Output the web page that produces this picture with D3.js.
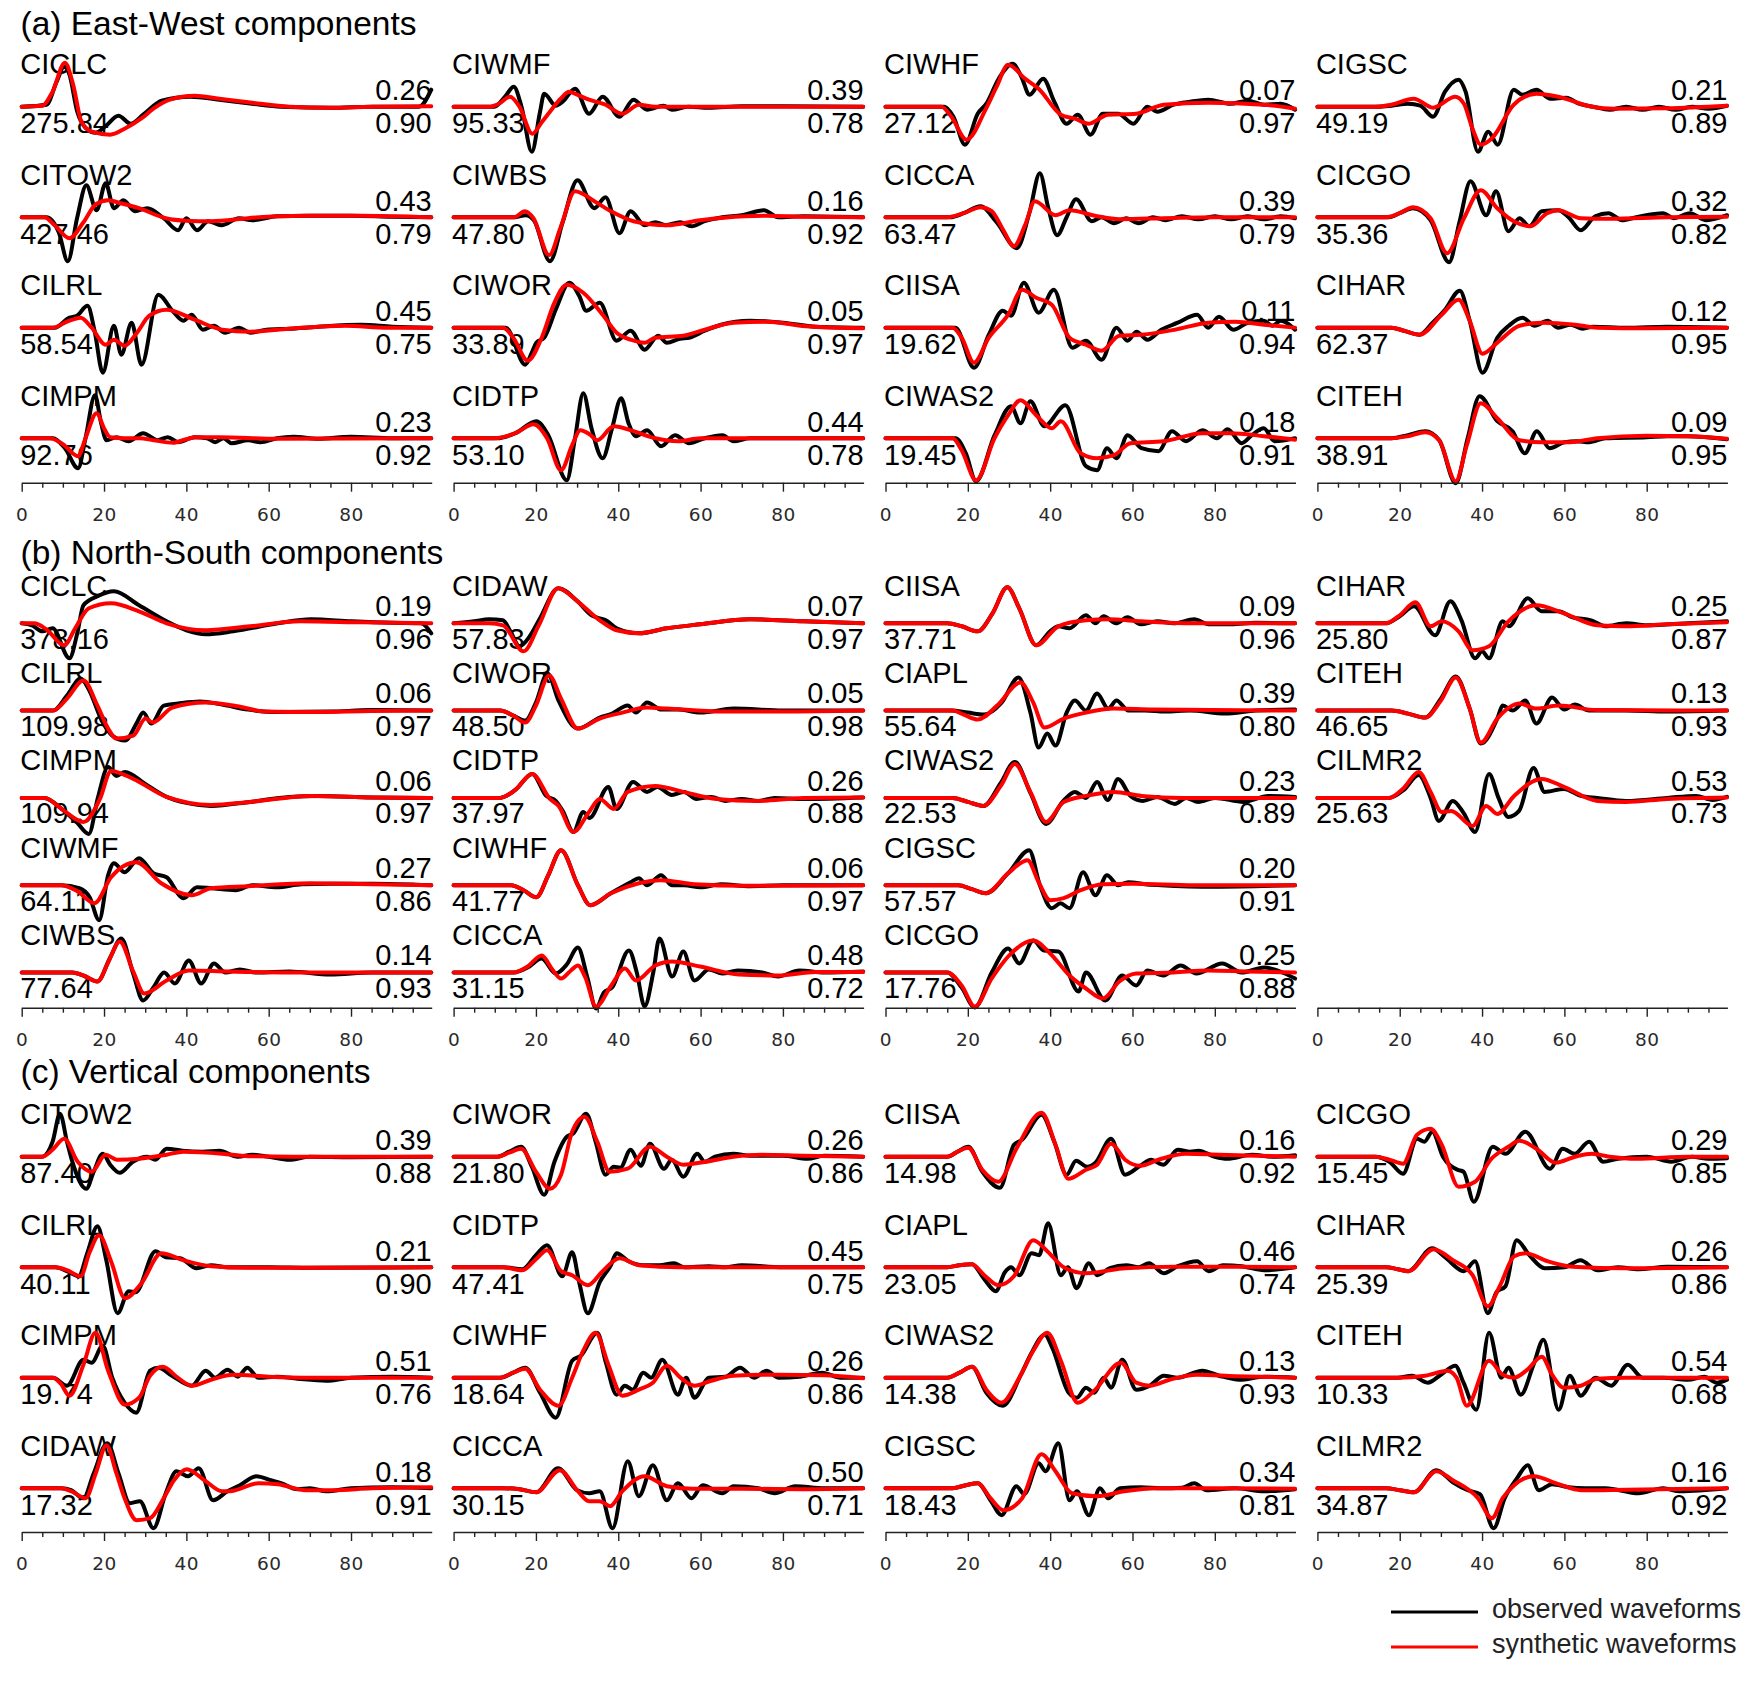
<!DOCTYPE html>
<html><head><meta charset="utf-8">
<script src="https://cdn.jsdelivr.net/npm/d3@7"></script>
<style>body{margin:0;background:#fff}svg{display:block}</style>
</head><body>
<svg id="chart" width="1750" height="1684"></svg>
<script>
// ---------------- DATA ----------------
const titles = ["(a) East-West components", "(b) North-South components", "(c) Vertical components"];
const xTicks = [0,5,10,15,20,25,30,35,40,45,50,55,60,65,70,75,80,85,90,95];
const xTickLabels = [0,20,40,60,80];
const legendLabels = ["observed waveforms", "synthetic waveforms"];

// (a) East-West — columns, top to bottom
const stationsA = [["CICLC","CITOW2","CILRL","CIMPM"],["CIWMF","CIWBS","CIWOR","CIDTP"],["CIWHF","CICCA","CIISA","CIWAS2"],["CIGSC","CICGO","CIHAR","CITEH"]];
const peakA = [["275.84","427.46","58.54","92.76"],["95.33","47.80","33.89","53.10"],["27.12","63.47","19.62","19.45"],["49.19","35.36","62.37","38.91"]];
const misfitA = [["0.26","0.43","0.45","0.23"],["0.39","0.16","0.05","0.44"],["0.07","0.39","0.11","0.18"],["0.21","0.32","0.12","0.09"]];
const corrA = [["0.90","0.79","0.75","0.92"],["0.78","0.92","0.97","0.78"],["0.97","0.79","0.94","0.91"],["0.89","0.82","0.95","0.95"]];
const obsA = [
 [
  [0,0,6,0.2,8.5,2.5,10.3,4.0,11.6,3.2,13.5,-0.5,15.5,-2.1,18,-2.6,20.5,-1.9,23.5,-0.9,26.5,-1.7,29.5,-0.8,34,0.6,41,1.0,48,0.7,56,0.3,63,0,75,-0.1,85,0,96.5,0,99.5,1.7],
  [0,0,6,0,9,-1.5,11.2,-4.4,13.5,0,15.7,3.2,18.2,0.7,20.4,3.4,22.4,0.9,24.7,1.7,27.5,0.6,30.5,0.9,34.5,-0.1,38,-1.3,40,-0.1,42.6,-1.3,45.3,-0.4,48.5,-0.8,52.8,-0.1,56,-0.3,62,0.1,70,0.15,80,0.15,90,0.05,99.5,0],
  [0,0,8,0,11.6,1.0,13.4,1.2,16,2.2,17.7,-0.3,19.7,-4.5,22.4,0.2,24.2,-2.7,26.7,0.5,29.1,-3.7,33.2,3.3,36.6,1.7,39.3,0.7,41.3,1.3,44,-0.2,46.7,0.2,49.4,-0.5,52.8,0,55.5,-0.5,59.5,-0.2,65,-0.1,72,0.1,82.5,0.3,90,0.1,99.5,0],
  [0,0,7.6,0,10.5,-1.0,13.7,-3.0,15.5,0,17.8,4.3,19.3,1.5,20.6,-0.2,23,0.1,26,-0.3,29.5,0.5,33,-0.2,35.5,0.1,38,-0.4,42,0.1,45,0,47,-0.4,49,0,51,-0.5,55,-0.2,58,-0.4,62,0,66,0.15,72,-0.05,80,0.15,90,0,99.5,0]
 ],
 [
  [0,0,9.9,0,12.5,1.0,14.6,2.0,16.5,0,19,-4.5,21,-0.5,22,1.3,24.8,0.1,26.5,0.5,29.5,1.8,32.9,-0.7,36.2,1.0,40.3,-1.0,43.7,0.7,47,-0.3,51,0.1,53,-0.3,57,0,62,-0.1,70,0.05,80,0.05,99.5,0],
  [0,0,15,0,17.5,0.2,19.5,-0.3,23.4,-4.4,26.5,-0.5,30.1,3.7,34.2,0.9,36.9,2.0,40.3,-1.6,43,0.6,46.4,-0.8,49,-0.5,51.5,-0.8,55,-0.5,57.8,-0.9,61,-0.4,65.3,0,70,0.2,75.4,0.7,78.8,0,85,0.1,99.5,0],
  [0,0,12.7,0,17.4,-3.7,19,-2.5,20.1,-1.5,22,-1.0,25,2.0,28.1,4.5,30.5,3.2,32.2,1.7,35.5,2.5,39.6,-1.3,43,-0.3,46.4,-2.2,49.7,-0.8,51.8,-1.5,55,-1.1,57.2,-1.0,61,-0.3,65,0.3,72,0.7,80,0.5,88,0.1,99.5,0],
  [0,0,10.6,0,15,0.5,20.1,1.7,23,0.3,27.5,-4.2,29.5,0,31.5,4.5,33.5,1.0,36.2,-2.0,38.5,1.0,40.7,4.0,42.5,1.5,44.3,0.2,47,0.8,50.4,-0.8,53.8,0.3,57.2,-0.5,61,0,65.3,0.3,68,-0.3,72,0,80,0,99.5,0]
 ],
 [
  [0,0,14.3,0,16.5,-1.0,19.3,-3.8,22.4,-0.7,24.5,0.3,27.5,2.8,30.9,4.3,33,3.0,35,1.2,38.3,2.8,41,0.5,44,-1.7,46.7,-0.8,49.8,-2.8,52.8,-0.7,56.5,-0.7,60.2,-1.7,63.6,0,66,-0.5,70,0.2,74,0.5,78.4,0.7,83.8,0.3,88,0.6,92,0.2,96,0.3,99.5,-0.3],
  [0,0,15.7,0,19,0.4,23.1,1.1,27,-0.5,31.9,-3.1,35,0.5,37.5,4.4,39.5,1.0,41.7,-1.8,44,0,46.3,1.8,50.1,-0.4,52.5,0,55.5,-0.6,58.5,-0.1,61.5,-0.6,65,0,68,-0.3,72,0.1,76,-0.2,80,0.1,84,-0.2,88,0.1,92,-0.2,96,0.1,99.5,-0.1],
  [0,0,17,0,21.5,-4.0,25.1,-0.7,28.5,1.7,30.5,1.2,33.6,4.5,37.2,1.5,40.9,3.8,45.4,-2.0,48.7,-1.3,52.5,-3.2,56.1,0,58.8,-1.3,61,-0.4,63.6,-1.2,67,-0.2,71,0.5,75.7,1.3,78.4,0,81,1.1,84.5,-0.2,88,0.5,91.9,0.7,94,0.2,96,0.7,99.5,-0.2],
  [0,0,17,0,19.5,-1.5,22,-4.3,26.5,0.3,30.5,3.2,32.8,1.5,35.2,3.7,38.6,1.2,43.7,3.3,48.7,-2.8,51.4,-3.2,53.8,-1.0,56.1,-2.0,58.8,0.3,62.2,-1.0,66.3,-1.3,69.6,0.7,73,-0.3,77,0.8,80.5,0,83.1,0.9,86.5,-0.5,89,0.3,91.9,1.0,94.5,-0.3,99.5,0]
 ],
 [
  [0,0,14.7,0,18,0.1,22,0.3,25,0.1,28.1,-1.0,31,1.5,34.3,2.7,36,1.5,39,-4.5,41.5,-2.5,43.8,-3.8,47.7,1.7,49.8,1.2,53.2,1.7,56.5,0.8,60.5,0.9,63.5,0.3,67,0,71,-0.3,75,0,79,-0.3,83,0,87,-0.3,91,0,95,-0.2,99.5,0.1],
  [0,0,17.4,0,20,0.4,23.2,0.9,27.5,-0.3,32,-4.5,34.5,-0.5,37.2,3.6,41,0.2,43.4,2.6,46.4,-1.4,49.1,-0.1,51.5,-0.9,54.5,0.6,58.5,0.7,61,0,64,-1.3,67.5,0.1,70.7,0.4,74,-0.3,77.5,0,84,0.4,86.5,-0.1,90.5,0.4,94.5,-0.3,99.5,0.2],
  [0,0,18,0,21,-0.3,24.8,-0.7,28,0.5,31,1.8,34.6,3.7,37,0.7,40.1,-4.5,43.7,-1.0,46.5,0.2,49.8,1.0,52.8,0.2,55.9,0.7,58.5,0,61.5,0.3,64.5,-0.1,67,0.1,75,0,85,0.1,99.5,0],
  [0,0,18,0,22,0.3,26.2,0.7,29.6,-0.2,33.6,-4.5,36.5,0,39.4,4.2,43.7,1.7,47.4,0.7,50.4,-1.5,53.3,0.7,56.4,-1.0,60,-0.4,63,-0.3,66,-0.4,70,0,80,0.1,85,0.2,90,0.2,99.5,-0.1]
 ]
];
const synA = [
 [
  [0,0,5,0.1,7.5,1.5,10.5,4.4,12.5,2.2,14.5,-1.5,17,-2.5,21.5,-2.8,25,-2.2,29,-1.2,32,-0.2,36,0.7,42,1.1,48,0.8,56,0.4,65,0,75,-0.1,85,0,99.5,0.05],
  [0,0,5.5,0,8,-0.8,11.6,-2.1,15,-0.5,18,1.3,21,1.7,24,1.4,28.5,0.9,35,-0.1,40,-0.35,46,-0.4,55,-0.1,62,0.1,69,0.15,82,0.15,99.5,0],
  [0,0,7.6,0,11,0.6,14.3,1.0,17,0,20.4,-1.7,22.4,-1.2,25,-1.8,28,-0.5,31,1.2,35.2,1.8,42,0.8,48.7,-0.2,55.5,-0.4,65,-0.1,78.4,0.2,89,0,99.5,0],
  [0,0,6.9,0,10,-0.6,13.7,-1.8,15.5,0,18.2,2.5,20,1.0,21.5,0.1,25,0,28.7,0,32,-0.2,36.8,-0.45,40,-0.1,42.5,0.1,48,0.1,62,-0.05,99.5,0]
 ],
 [
  [0,0,8.6,0,11,0.3,13.7,1.0,16,0,19.1,-2.7,21.5,-1.5,23.4,-0.5,26,0.8,28.1,1.5,30,1.2,32.9,0.7,36.9,0.2,41,-0.7,45,0.2,49,0,60,0,99.5,0],
  [0,0,14.7,0,17.3,0.6,19.4,-0.1,23.2,-3.8,26,-1.0,29.5,2.6,34.2,1.6,38.2,0.6,43.7,-0.4,51.8,-0.8,59.9,-0.3,70.7,0.1,76,0.15,85,0.05,99.5,0],
  [0,0,12,0,14.5,-1.0,18,-3.3,21.4,-1.0,24.5,2.5,27.5,4.3,31.5,3.5,36.2,1.3,39.6,-0.5,43,-1.2,46.4,-1.5,49,-1.0,55.8,-0.8,61,-0.2,68,0.5,76,0.6,85.5,0.15,99.5,-0.05],
  [0,0,9.9,0,15,0.5,19.4,1.4,22.7,0,26.1,-3.2,28.8,-0.7,30.8,0.8,33,0.4,34.9,-0.2,38.9,1.2,43.7,0.7,49,0,54.5,-0.3,60,0,99.5,0]
 ],
 [
  [0,0,13.6,0,16,-1.0,19.7,-3.3,24.4,-0.2,27,2.0,29.8,4.2,33.9,2.8,37.2,1.8,42.6,-0.8,46,-1.2,49.4,-1.7,54,-0.8,60.9,-0.7,67.6,0.2,78.4,0.4,91.9,0.2,99.5,-0.2],
  [0,0,15,0,19,0.4,23.1,1.0,25.8,0.6,28.5,-1.2,31.2,-2.9,33.9,-0.8,36.3,1.6,41.3,0.2,44.7,0.7,51.4,0.1,56.8,-0.2,67.6,-0.1,80,0,99.5,0],
  [0,0,16.3,0,18.5,-1.0,21.5,-3.5,25.1,-1.0,29.8,1.3,33.2,3.8,36.6,3.0,40.4,2.3,44.7,-1.0,48.7,-1.7,52.5,-2.3,56.8,-0.8,62.2,-0.7,70.3,-0.2,78.4,0.5,85,0.6,92,0.3,99.5,0],
  [0,0,16.3,0,18.5,-1.2,22,-4.2,26.5,0,29.8,2.3,32.8,3.8,36.6,2.3,40.4,1.0,42.6,1.7,47.4,-1.5,51.4,-2.0,55.5,-1.7,59.5,-0.5,67.6,-0.3,77,0.5,83.8,0.5,92,0.2,99.5,-0.15]
 ],
 [
  [0,0,14,0,18,0.2,23.4,0.8,28.1,-0.1,33.5,1.0,35.6,0.3,37.5,-2.0,39.7,-3.8,42.3,-3.2,47.7,0.2,53.2,1.3,58.5,1.0,66.7,0,72,-0.2,85,-0.15,99.5,0.1],
  [0,0,16.7,0,20,0.4,23.2,1.0,27.5,-0.1,31.5,-3.6,35.6,-0.1,39.7,2.7,43.7,0.9,47.7,-0.4,51.8,-0.9,55.8,0.4,58.5,0.7,64,-0.1,71,-0.15,85,0,99.5,0.05],
  [0,0,18,0,21,-0.3,24.8,-0.7,30.2,1.3,34.3,2.8,37,0.7,40.1,-2.6,43.7,-1.5,49.1,0.2,54.5,0.5,62.6,0.3,68,0,80,-0.05,99.5,0],
  [0,0,18,0,22,0.2,26.2,0.6,29.6,-0.2,33.6,-4.3,36.3,-0.7,39.7,3.5,43.7,2.0,49.1,-0.2,54.5,-0.4,61.3,-0.4,68,0,80,0.25,90,0.2,99.5,-0.05]
 ]
];

// (b) North-South
const stationsB = [["CICLC","CILRL","CIMPM","CIWMF","CIWBS"],["CIDAW","CIWOR","CIDTP","CIWHF","CICCA"],["CIISA","CIAPL","CIWAS2","CIGSC","CICGO"],["CIHAR","CITEH","CILMR2"]];
const peakB = [["378.16","109.98","109.94","64.11","77.64"],["57.83","48.50","37.97","41.77","31.15"],["37.71","55.64","22.53","57.57","17.76"],["25.80","46.65","25.63"]];
const misfitB = [["0.19","0.06","0.06","0.27","0.14"],["0.07","0.05","0.26","0.06","0.48"],["0.09","0.39","0.23","0.20","0.25"],["0.25","0.13","0.53"]];
const corrB = [["0.96","0.97","0.97","0.86","0.93"],["0.97","0.98","0.88","0.97","0.72"],["0.96","0.80","0.89","0.91","0.88"],["0.87","0.93","0.73"]];
const obsB = [
 [
  [0,0,2.5,-0.2,5,-0.8,7.5,-0.5,11.6,-3.5,13.5,-1.0,15,1.8,18.4,2.7,22.4,3.2,28.5,1.8,35.2,0.2,40,-0.7,44.7,-1.1,51.4,-0.8,62.2,0,70.3,0.4,80,0.2,90,0.05,97,0,99.5,-1.0],
  [0,0,7.6,0,11,1.5,14.3,3.2,16.2,2.2,19.7,-1.2,22,-2.5,25.1,-3.0,28,-1.2,29.5,-0.2,31.5,-1.3,34.5,0.5,38,0.7,43.3,0.9,48.7,0.6,55,0.1,62,-0.15,75,-0.1,85,0.05,99.5,0],
  [0,0,5.5,0,10,-1.2,13.5,-2.5,16.3,-3.6,18.5,0,21,3.1,23,2.2,25.1,2.6,30,1.4,35.2,0.1,40,-0.5,46,-0.8,55.5,-0.4,65,0.1,72,0.2,85,0.05,99.5,0],
  [0,0,9.6,0,14,-0.3,16.5,-1.2,18.8,-3.5,21,1.0,22.4,2.2,25,1.3,28.5,2.7,32,1.2,35.2,0.8,39.3,-1.3,42.6,-0.2,46,-0.3,52,-0.5,56,0,62,-0.2,68,0.1,75,0.15,85,0.15,99.5,0],
  [0,0,12.3,0,15.5,-0.4,18.4,-0.9,21.5,1.5,24.2,3.4,27,0,29.5,-2.8,32,-1.5,34.6,0,37.2,-1.1,40.6,1.2,43.6,-1.1,46.7,0.9,49.5,0,53,0.3,57,0,65,0.1,75,-0.2,85,0,99.5,0]
 ],
 [
  [0,0,5,0.2,8.6,0.4,12,0.3,13.8,-0.8,16,-2.3,18.5,-1.3,21,0.5,25.4,3.5,30.1,2.2,33.5,0.8,35.5,0.5,37,0.3,39.6,-0.5,45,-1.0,51.8,-0.5,59.9,-0.1,72,0.4,85,0.2,99.5,0],
  [0,0,11.3,0,14.5,-0.5,17.4,-1.0,20,0.8,22.8,3.7,25.5,1.0,30.2,-1.8,35.5,-0.7,38.5,-0.3,42.3,0.5,44.3,-0.2,47,0.8,50.5,0.1,54.5,0.1,60,-0.2,68,0.2,80,0,99.5,0],
  [0,0,11.3,0,15,0.8,19.1,2.4,22.5,0.2,24.8,-0.3,26.5,-1.3,29.1,-3.4,31.5,-1.4,33,-2.0,37.6,1.1,39.6,-1.1,43.6,1.6,47,0.6,49.5,1.1,53,0.3,56,0.6,59,-0.1,62.6,0.1,66,-0.3,70,-0.1,74,-0.3,78,0,85,-0.1,99.5,0.05],
  [0,0,14,0,17,-0.5,20.1,-1.2,23,1.0,26.1,3.5,30.2,0,33.2,-2.0,38.2,-0.8,43,0.3,45,0.7,47,0,50.4,1.0,53,0,56,0,60,-0.2,65,0.1,72,-0.1,80,0,99.5,0],
  [0,0,14.6,0,18,0.5,21.4,1.4,24.8,-0.1,27.5,0.8,30.2,2.5,32.5,-0.5,34.6,-3.6,36.5,-2.0,38.5,-1.5,42.6,2.2,44.5,0,46.4,-3.4,48.5,0,50,3.4,53.1,-0.4,55.8,2.1,58.5,-0.8,62,0.3,65.3,-0.1,69,0.2,75,0,78.8,-0.4,84,0.2,90,0,99.5,0.1]
 ],
 [
  [0,0,15,0,18.5,-0.3,22.4,-0.8,26,1.0,29.6,3.6,32.5,1.5,36.6,-2.2,40,-0.8,42,-0.3,44.7,-0.5,48.7,0.8,51,0,53,0.7,56,0,58.8,0.6,62,-0.1,66,0.2,70,0,75,0.4,78.5,-0.1,84,-0.1,90,0.05,99.5,0],
  [0,0,16,0,20,-0.2,24,-0.4,28.2,0.8,32.3,3.3,35.2,-0.2,37.2,-3.7,39.3,-2.3,41.3,-3.5,44,-0.2,46,1.0,48.7,0,51.4,1.7,54.1,0.2,56.1,1.0,59,0,63,0,68,-0.1,74,0,82.5,-0.3,90,0,99.5,0.1],
  [0,0,16.3,0,20,-0.4,23.8,-0.8,28,1.5,31.4,3.6,35.2,0.5,39,-2.6,43,-0.4,46,0.6,48.7,0,51.4,1.6,54,-0.2,56.5,1.9,59.5,0.2,62.5,-0.3,66,0.1,70.3,-0.6,73,0,76,-0.4,80,0,87,-0.4,93,0.2,99.5,0.1],
  [0,0,17.7,0,21,-0.4,24.4,-0.8,29.8,1.2,34.9,3.5,37.5,0,40.4,-2.3,42.5,-1.8,44.7,-2.3,48,1.3,51,-1.0,53.8,1.0,56.5,0,59,0.3,63,0.1,67,0,80,-0.15,99.5,0],
  [0,0,15,0,18.5,-1.5,21.7,-3.5,25.8,0,29.8,2.4,32.5,0.9,35.9,3.2,38.5,2.2,42,2.1,46.9,-1.9,48.7,0,53.4,-2.8,57.5,-0.3,60.9,-1.3,63.6,0.2,67.5,-0.3,71.7,0.7,75.5,-0.1,81.8,0.9,86.5,0,92,0.5,97,-0.1,99.5,-0.6]
 ],
 [
  [0,0,16.7,0,20,0.7,23.5,1.7,28.6,-1.2,32.3,2.2,35,0.3,38.3,-3.5,40,-2.8,41.7,-3.5,45,0.2,46.5,-0.3,51.1,2.5,54.5,1.2,58.5,1.2,62,0.6,66.5,0.3,70,-0.3,75,0,80,-0.2,90,0,99.5,0.2],
  [0,0,18,0,22,-0.3,26.2,-0.7,30,1.2,33.6,3.4,37,0.2,39.7,-3.3,43.7,-0.8,45,0.5,47.5,0,50.5,1.0,53.2,-1.3,57,1.3,60,0.1,62.5,0.6,66,0,75,0,85,-0.1,99.5,0],
  [0,0,17.4,0,21,0.8,24.6,2.3,27.5,0,29.5,-2.3,32.9,-0.3,35.5,-1.5,38.3,-3.4,41.7,2.4,44,0,46.4,-1.9,49,-1.3,52.5,3.0,55.2,0.6,59.9,0.9,64,0.2,68,0,75,-0.3,85,0,92,0.2,96,-0.2,99.5,0.1]
 ]
];
const synB = [
 [
  [0,0,3,0,6,-0.6,10.3,-2.2,13,-0.5,16.3,1.5,21.7,2.0,28.5,1.2,35.2,0,44.7,-0.7,55.5,-0.3,67.6,0.2,82.5,0.1,99.5,0],
  [0,0,7.6,0,11,1.2,15,3.0,18.4,0.5,21,-1.8,23,-2.8,27.1,-2.5,30.1,-0.8,31.8,-1.2,36.6,0.3,44.7,0.8,51.4,0.5,59.5,-0.1,70.3,-0.15,85,-0.05,99.5,0],
  [0,0,5.5,0,10,-1.2,15,-2.4,19,-0.1,21.7,2.7,27.1,1.9,35.2,0.1,46,-0.7,55.5,-0.4,70.3,0.2,85,0.05,99.5,0],
  [0,0,9.6,0,13.5,-0.6,17.7,-1.8,21.7,0.8,27.8,2.3,33.9,0.2,41.3,-1.0,46,-0.3,55,-0.1,70,0.2,85,0.1,99.5,0],
  [0,0,12.3,0,15,-0.3,18.4,-0.9,21,1.0,23.8,3.1,27.1,0.1,29.8,-2.1,35.2,-0.8,40.6,0.2,50,0.1,65,0,99.5,0]
 ],
 [
  [0,0,8.6,0,12,-0.2,17,-2.8,20.7,-0.2,25.4,3.5,30.1,2.2,35.5,0.3,39.6,-0.7,45,-1.0,51.8,-0.5,59.9,-0.1,72,0.4,85,0.2,99.5,0],
  [0,0,11.3,0,14.5,-0.5,17.4,-1.2,20,0.5,23.2,3.5,26.1,1.2,30.2,-1.8,35.5,-0.8,41,-0.2,47,0.3,51.8,0.2,65.3,-0.1,80,-0.1,99.5,0],
  [0,0,11.3,0,15,0.8,19.1,2.4,23.4,-0.1,25.5,-0.8,29.1,-3.4,32.9,-1.4,35.5,-0.1,38.9,-1.1,42.3,0.6,49,1.2,55.8,0.6,63.9,-0.1,73.4,-0.3,85,0,99.5,0.05],
  [0,0,14,0,17,-0.5,20.1,-1.2,23,1.0,26.1,3.5,30.2,0,33.2,-2.0,38.2,-0.8,45,0.2,50.4,0.5,58.5,0.1,70,-0.05,99.5,0],
  [0,0,14.6,0,18,0.6,21.4,1.7,24,0.3,26.1,-0.6,28.5,0.2,30.2,0.7,32,-0.5,34.6,-3.4,38.3,-1.3,41.6,0.4,44.3,-0.8,49,0.7,53.1,1.1,59.9,0.6,69.3,-0.2,78.8,-0.3,88,0.05,99.5,0.05]
 ],
 [
  [0,0,15,0,18.5,-0.3,22.4,-0.8,26,1.0,29.6,3.6,32.5,1.5,36.6,-2.2,42,-0.3,48.7,0.3,54.1,0.4,62.2,0.2,75,0,99.5,0],
  [0,0,16.3,0,19,-0.4,22.4,-0.9,27.1,0.5,32.8,2.8,35.9,0.8,38.6,-1.7,43.3,-0.8,48.7,-0.2,55.5,0.2,65,0.1,99.5,0],
  [0,0,16.3,0,20,-0.4,23.8,-0.8,28,1.2,31.4,3.4,35.2,0.6,39,-2.4,43.3,-0.4,48.7,0.2,55.5,0.6,62.2,0.2,72,0,99.5,0],
  [0,0,17.7,0,21,-0.4,24.4,-0.8,29.8,1.2,34.5,2.5,37.2,0.3,40,-1.5,43.3,-1.3,47.4,-0.5,52.8,0.1,60,0.15,75,0,99.5,0],
  [0,0,15,0,18.5,-1.3,21.7,-3.4,25.8,-0.6,29.8,1.6,35.9,3.2,40,1.9,44.7,-0.3,48.7,-1.6,52.8,-2.6,56.8,-0.9,60.9,-0.1,70,0,78.4,0.2,88,0.1,99.5,0]
 ],
 [
  [0,0,16.7,0,20,0.8,23.8,2.1,27.5,-0.3,30.2,0.2,34.3,-0.8,37.7,-2.7,41.7,-2.3,46.4,0.2,53.2,1.8,59.9,1.0,68,-0.2,74.8,-0.3,85,-0.1,99.5,0.1],
  [0,0,18,0,22,-0.3,26.2,-0.7,30,1.0,33.6,3.3,37,0.2,39.7,-3.2,43.7,-0.8,49.1,0.7,53.2,0.2,58.6,0.5,68,0.05,99.5,0],
  [0,0,17.4,0,21,1.0,24.6,2.6,27.5,0.6,30.2,-1.4,32.5,-1.3,37.7,-2.8,41,-0.8,43.7,-1.6,47.8,0.2,54.5,1.9,59.9,1.1,68,-0.3,74.8,-0.4,85,-0.1,99.5,0.05]
 ]
];

// (c) Vertical
const stationsC = [["CITOW2","CILRL","CIMPM","CIDAW"],["CIWOR","CIDTP","CIWHF","CICCA"],["CIISA","CIAPL","CIWAS2","CIGSC"],["CICGO","CIHAR","CITEH","CILMR2"]];
const peakC = [["87.40","40.11","19.74","17.32"],["21.80","47.41","18.64","30.15"],["14.98","23.05","14.38","18.43"],["15.45","25.39","10.33","34.87"]];
const misfitC = [["0.39","0.21","0.51","0.18"],["0.26","0.45","0.26","0.50"],["0.16","0.46","0.13","0.34"],["0.29","0.26","0.54","0.16"]];
const corrC = [["0.88","0.90","0.76","0.91"],["0.86","0.75","0.86","0.71"],["0.92","0.74","0.93","0.81"],["0.85","0.86","0.68","0.92"]];
const obsC = [
 [
  [0,0,5,0,7.5,1.5,9.3,4.3,11,1.5,12.3,-0.5,15.7,-3.2,17.5,-1.5,19.7,0.3,21.5,-0.8,23.8,-1.6,27,-0.5,30.5,0,32.5,-0.3,35.2,0.8,39,0.6,44,0.5,48,0.6,52.5,0,56,0.2,60,0,65,-0.3,70,0,80,-0.05,99.5,0],
  [0,0,8.2,0,11,-0.4,13.8,-0.9,16,1.5,18.4,4.1,20.5,0.8,23.3,-4.6,26,-2.4,27.7,-2.5,32.5,1.6,35,1.0,38.5,0.9,42.5,-0.1,46,0.2,50,0,60,0,70,-0.05,99.5,0],
  [0,0,7.6,0,11,-0.8,15,1.8,17,1.5,19.7,3.2,22,0,25,-2.5,27.8,-3.5,31.2,0.7,33.2,1.0,36.5,0.2,41.3,-0.8,44.7,0.7,47,0,50,0.8,52.5,0.1,54.8,1.0,57.5,0,62,0.1,67,-0.1,74,-0.3,80,0,90,0.1,99.5,0],
  [0,0,9.6,0,12,-0.2,15,-1.0,17.5,1.5,20.8,4.5,23.5,1.5,26.3,-1.5,28.7,-1.3,32,-4.0,35,-0.5,37.6,1.7,40.4,1.2,43,2.0,46.5,-1.2,50,-0.3,53,0.3,57,1.2,60.5,0.8,63,0.5,67,-0.1,70,0,74,-0.3,80,0,90,0.1,99.5,0]
 ],
 [
  [0,0,10.6,0,13.5,0.5,16.4,1.0,19,-1.0,22,-3.8,24.5,-0.5,27.5,2.0,29,2.3,32.2,4.3,34.5,1.5,36.9,-1.8,38.9,-1.0,40.5,-1.1,43,0.7,45.5,-0.9,47.7,1.3,51.1,-1.2,53,-0.3,55.8,-2.0,59.2,0.3,61,-0.5,63.5,0,68,0.3,72,0.1,80,0.1,86,-0.2,90,0.1,99.5,0],
  [0,0,12,0,16.7,-0.2,20,1.2,22.7,2.2,26.4,-0.9,28.8,1.5,30.5,-1.5,32.6,-4.6,35.5,-1.5,38.2,0.2,39.6,1.4,42.5,0.6,46,0.2,50,0.2,53.5,0.4,56,0,62,0.1,66,0,70,0.2,80,0,99.5,0],
  [0,0,11.3,0,14.5,0.5,17.4,1.0,21,-1.5,24.8,-4.0,28.8,1.7,30.9,2.2,34.9,4.5,37,1.5,39.6,-1.7,41.6,-0.8,43.5,-1.2,46.1,0.5,48,0,50.7,1.8,54.5,-1.7,56.5,0,58.5,-2.0,62,0,66,0.1,69.6,1.0,73,0,76,0.7,79,0,84,0.1,89.5,0.5,94,0,99.5,0],
  [0,0,12,0,16,-0.1,20.1,-0.4,25.4,2.0,30,-0.2,32.9,-0.5,35.5,-0.3,38.6,-4.0,42.3,2.7,45,-0.8,48.4,2.3,51.8,-1.2,54.5,0.5,57.8,-1.0,60.5,0.3,65.3,-0.5,68,0.2,74,0,78,-0.5,83,0.2,90,0,99.5,0]
 ],
 [
  [0,0,15,0,17.5,0.5,20.1,1.0,23.5,-1.5,27.8,-3.1,31.2,1.2,33.2,1.7,37.9,4.2,41,1.5,44,-1.8,46.3,-0.4,49,-1.0,51,-0.6,54.8,1.8,58.2,-1.8,61.9,-0.9,64.5,-0.3,67.5,-0.8,71,0.7,74,0.5,76,0.6,80,0,83,-0.2,89,0.2,94,0,99.5,0.15],
  [0,0,15,0,18,0.2,21,0.3,24,-1.2,26.8,-2.4,29,-0.5,30.5,0,32.5,-0.8,35.5,1.4,37.3,1.2,39.5,4.4,42.6,-0.8,44.3,0,46.4,-2.1,49.4,0.4,51.4,-0.8,54.5,-0.1,58.5,0.2,61.5,0,64,0.4,67.6,-0.6,71,0.1,75.7,0.6,78.5,-0.4,82,0.2,86.5,0.1,92,-0.3,99.5,0],
  [0,0,15,0,18,0.5,21,1.1,24.5,-1.5,28.5,-2.8,32.9,0.3,35.5,2.5,38.7,4.3,40.5,3.0,44.5,-1.5,46.5,-2.0,48.7,-1.0,50.7,-1.5,53,0,54.8,-1.0,57.5,1.8,60.9,-1.2,64.2,-0.8,67.6,0.2,71,0,77,0.7,81,0.2,86,-0.2,92,0.1,99.5,0],
  [0,0,16.3,0,19.5,0.3,22.4,0.5,25.5,-1.2,28.2,-2.7,31.8,0.2,33.7,-0.6,37.2,2.5,38.9,1.7,42,4.5,44.7,-1.2,46.5,-0.3,49.4,-2.7,52.1,0,54.1,-1.0,57,0,62,0.1,67,0,72,0.05,75,0.5,78,-0.2,85,0,92,-0.3,99.5,-0.1]
 ],
 [
  [0,0,14,0,17.5,-0.5,20.8,-1.7,24.2,1.8,26,1.5,27.9,2.5,30.5,0,34,-1.3,35.5,-1.5,38,-4.5,42.6,1.0,45.7,0.3,50.5,2.5,56.5,-1.2,59.6,0.8,62.5,0.3,66,1.5,69.4,-0.5,73,-0.2,80,0,86,-0.5,91,0,95,-0.2,99.5,-0.15],
  [0,0,16.7,0,19.5,-0.2,22.1,-0.4,27.9,1.9,31,1.0,35.6,-0.4,38.3,0.6,41.4,-4.6,43.5,-2.5,45.7,-1.9,48.4,2.7,51.5,1.2,55.2,-0.1,60,0,63.9,0.7,68,-0.3,73,0,78,-0.2,85,0.05,99.5,0],
  [0,0,19.4,0,23,0.2,26.8,-0.5,30,0.3,33.5,1.2,35.5,-0.5,38.6,-3.2,41.7,4.5,44.7,0,46.4,1.0,49.4,-1.7,52.5,1.3,54.9,3.8,58.6,-3.2,61.3,0.2,64,-1.8,67.5,0,71.4,-0.8,75.4,1.3,79,0,84,0,90,-0.2,94,0.1,97,-0.5,99.5,-0.2],
  [0,0,16.7,0,20,-0.2,23.5,-0.4,28.9,1.8,32.9,0.6,36.5,-0.2,39.5,-0.6,42.8,-4.0,45.5,-1.0,48.5,1.0,51.1,2.3,53.8,-0.2,57,0.4,61,0.1,65,0,70,0,78,-0.5,84,0,88,-0.3,99.5,0]
 ]
];
const synC = [
 [
  [0,0,4.9,0,7.5,0.7,10.3,1.8,13.6,-0.5,17,-1.5,20.4,0.2,23.1,-0.3,28.5,-0.2,35.2,0.2,39.3,0.5,48.7,0.3,55,0.05,70,0,99.5,0],
  [0,0,8.2,0,11,-0.3,14.3,-0.9,16.5,1.5,18.8,3.2,21.7,0.6,25.1,-3.1,29.1,-1.6,33.9,1.4,39.3,0.7,46,0.1,55,-0.05,99.5,0],
  [0,0,7.6,0,9.5,-0.6,11.6,-1.8,15,1.3,17.9,4.5,21,0.7,25.1,-2.7,28.5,-2.0,31.2,0.2,34.3,1.1,37.9,0,41.3,-0.8,46,-0.2,51.4,0.3,60,0.1,70,0,99.5,0],
  [0,0,9.6,0,12,-0.3,15.5,-1.0,18,1.5,20.6,4.3,23,1.5,25,-1.0,27.9,-3.2,31.2,-3.0,34.5,-1.0,37,0.8,40.1,1.9,44.7,0.7,48.7,-0.3,50.6,-0.3,57.5,0.5,62.2,0.4,69,-0.2,75.7,-0.2,85,0,99.5,0.1]
 ],
 [
  [0,0,10.6,0,13.5,0.4,16.4,0.8,20,-1.5,23.4,-3.2,26.1,-1.8,28.8,2.5,31.8,4.0,34.9,1.5,37.9,-1.5,42.3,-1.2,47.7,1.0,51.8,0,55.8,-0.8,61.2,-0.5,68,0,74.7,0.2,85,0.1,99.5,0],
  [0,0,12,0,16.7,-0.3,20,0.8,22.7,1.7,26.1,-0.4,28.8,-0.8,32.6,-1.8,36.2,-0.4,40.3,0.9,45,0.2,55,0,99.5,0],
  [0,0,11.3,0,14.5,0.5,17.4,0.9,21,-1.2,25.5,-2.8,28.8,0,31.5,2.7,34.5,4.5,37.6,1.3,41,-1.8,45,-1.2,48.4,-0.5,51.8,1.2,55.1,0,58.5,-0.8,62.6,-0.3,68,0.2,78.8,0.3,90,0.25,99.5,-0.05],
  [0,0,12,0,16,-0.1,20.1,-0.4,25.8,1.8,30.2,-0.3,32.9,-1.3,35.5,-1.3,38,-1.8,41,-0.3,46.4,1.2,51.8,0.2,58,-0.05,70,-0.05,85,-0.1,99.5,0]
 ],
 [
  [0,0,15,0,17.5,0.5,20.1,0.9,23.5,-1.3,27.4,-2.5,31.8,0.8,37.9,4.4,41.3,1.2,44.4,-2.2,48.7,-1.3,51.4,-0.8,54.8,1.3,58.2,-0.3,61.9,-0.9,66.3,-0.3,73,0.3,81.1,0.2,90,0.1,99.5,0],
  [0,0,15,0,18,0.2,21,0.3,24,-0.8,27.4,-1.8,31.2,-0.9,35.9,2.7,39.3,1.6,43.3,0,48.7,-0.6,58.2,-0.1,70,0.05,85,0.05,99.5,0],
  [0,0,15,0,18,0.5,21,1.1,24.5,-1.2,28.2,-2.5,32.5,0,35.9,2.7,39.3,4.5,42.6,1.7,46.7,-2.5,50.7,-1.3,57.2,1.5,60.9,-0.5,64.2,-0.8,69,-0.2,75.7,0.3,85,0.15,99.5,0],
  [0,0,16.3,0,19.5,0.3,22.4,0.5,25.5,-1.0,28.7,-2.2,33.2,-1.0,37.9,3.4,41.3,1.7,45.3,-0.5,51.4,-0.8,58,-0.3,66,0,80,0,99.5,-0.05]
 ],
 [
  [0,0,14,0,17.5,-0.3,20.8,-0.7,24.2,2.2,27.5,2.8,30.2,1.2,34.3,-3.0,38.3,-2.5,42.3,-0.2,46.4,1.0,49.1,1.6,53.2,0.8,57.9,-0.6,62.6,0,66.7,0.3,71,0,77.5,-0.2,90,0,99.5,0],
  [0,0,16.7,0,19.5,-0.2,22.1,-0.4,28.2,1.8,32.9,0.7,37.7,-0.8,41.4,-3.9,44.4,-1.8,47.8,1.1,50.5,1.4,55.9,0.6,62,0.05,75,-0.1,99.5,0],
  [0,0,19.4,0,26.2,0.2,31.6,0.7,33.8,0,36.3,-2.8,41.7,1.7,45,0.3,47.8,0,51,0.8,54.5,2.1,57,0.3,59.9,-1.0,64,-0.8,68,-0.1,75,0,99.5,0],
  [0,0,16.7,0,20,-0.2,23.5,-0.4,28.9,1.7,32.9,0.8,39,-1.0,42.4,-3.0,45,-1.0,47.8,0.3,52.5,1.2,58.6,0.4,64,-0.2,75,-0.15,99.5,0]
 ]
];

// ---------------- DRAWING ----------------
const svg = d3.select("#chart");
const FONT = "'Liberation Sans', Arial, Helvetica, sans-serif";
const colX0 = 21.7, colStep = 431.9, axisW = 410;
const groups = [
  {stations: stationsA, peak: peakA, misfit: misfitA, corr: corrA, obs: obsA, syn: synA,
   titleY: 34.5, zero0: 106.7, rowStep: 110.5, nameDy: -32.3, topDy: -6.7, botDy: 26.6, axisY: 482.7},
  {stations: stationsB, peak: peakB, misfit: misfitB, corr: corrB, obs: obsB, syn: synB,
   titleY: 564, zero0: 623.3, rowStep: 87.3, nameDy: -27.5, topDy: -7.2, botDy: 25.5, axisY: 1007.7},
  {stations: stationsC, peak: peakC, misfit: misfitC, corr: corrC, obs: obsC, syn: synC,
   titleY: 1082.5, zero0: 1156.7, rowStep: 110.5, nameDy: -32.3, topDy: -6.7, botDy: 26.6, axisY: 1532}
];

const x = d3.scaleLinear().domain([0, 99.6]).range([0, axisW]);
const y = d3.scaleLinear().domain([-1, 1]).range([10, -10]);
const toPairs = flat => d3.range(0, flat.length, 2).map(i => [flat[i], flat[i + 1]]);
const line = d3.line().x(d => x(d[0])).y(d => y(d[1])).curve(d3.curveMonotoneX);

groups.forEach((G, gi) => {
  svg.append("text").attr("x", 20.5).attr("y", G.titleY)
    .attr("font-family", FONT).attr("font-size", 33.5).attr("fill", "#000")
    .text(titles[gi]);

  G.stations.forEach((col, ci) => {
    const x0 = colX0 + ci * colStep;
    col.forEach((name, ri) => {
      const y0 = G.zero0 + ri * G.rowStep;
      const p = svg.append("g").attr("transform", `translate(${x0},${y0})`);
      const txt = (tx, ty, s, anchor) => p.append("text").attr("x", tx).attr("y", ty)
        .attr("font-family", FONT).attr("font-size", 29).attr("fill", "#000")
        .attr("text-anchor", anchor).text(s);
      txt(-1.5, G.nameDy, name, "start");
      txt(410, G.topDy, G.misfit[ci][ri], "end");
      txt(-1.5, G.botDy, G.peak[ci][ri], "start");
      txt(410, G.botDy, G.corr[ci][ri], "end");
      p.append("path").attr("d", line(toPairs(G.obs[ci][ri])))
        .attr("fill", "none").attr("stroke", "#000").attr("stroke-width", 4)
        .attr("stroke-linejoin", "round").attr("stroke-linecap", "round");
      p.append("path").attr("d", line(toPairs(G.syn[ci][ri])))
        .attr("fill", "none").attr("stroke", "#ff0000").attr("stroke-width", 4)
        .attr("stroke-linejoin", "round").attr("stroke-linecap", "round");
    });
  });

  // axes for all four columns
  for (let ci = 0; ci < 4; ci++) {
    const x0 = colX0 + ci * colStep;
    const ax = svg.append("g").attr("transform", `translate(${x0},${G.axisY})`)
      .call(d3.axisBottom(x).tickValues(xTicks).tickSizeOuter(0)
        .tickFormat(d => xTickLabels.includes(d) ? d : ""));
    ax.select(".domain").attr("stroke", "#222").attr("stroke-width", 1.6);
    ax.selectAll(".tick line").attr("stroke", "#222").attr("stroke-width", 1.4)
      .attr("y2", d => d % 20 === 0 ? 9 : 5);
    ax.selectAll(".tick text").attr("y", 38).attr("dy", 0)
      .attr("font-family", "'DejaVu Sans', sans-serif").attr("font-size", 18.5)
      .attr("letter-spacing", 0.5).attr("fill", "#2a2a2a");
  }
});

// legend
const legY = [1612, 1647];
const legColor = ["#000", "#ff0000"];
legendLabels.forEach((lab, i) => {
  svg.append("line").attr("x1", 1391).attr("x2", 1478).attr("y1", legY[i]).attr("y2", legY[i])
    .attr("stroke", legColor[i]).attr("stroke-width", 3);
  svg.append("text").attr("x", 1492).attr("y", legY[i] + 6).attr("font-family", FONT)
    .attr("font-size", 27).attr("fill", "#222").text(lab);
});
</script>
</body></html>
